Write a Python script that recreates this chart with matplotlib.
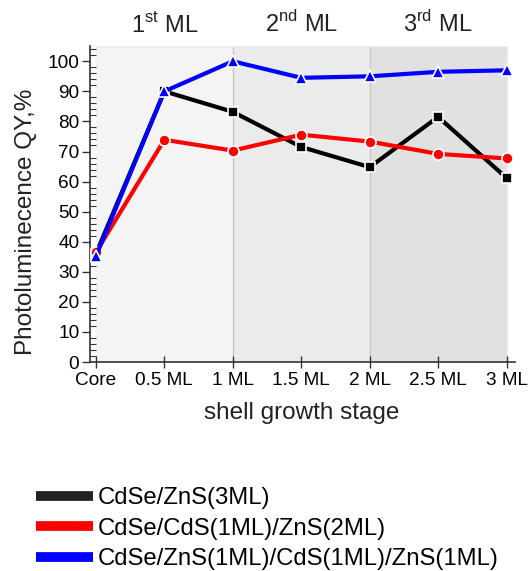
import matplotlib.pyplot as plt
from matplotlib.lines import Line2D
from matplotlib.ticker import MultipleLocator

plt.rcParams['font.family'] = ['Liberation Sans', 'DejaVu Sans']

stages = ['Core', '0.5 ML', '1 ML', '1.5 ML', '2 ML', '2.5 ML', '3 ML']
qy_zns = [36, 90, 83.2, 71.5, 64.8, 81.5, 61.2]
qy_cds_zns = [36.5, 73.9, 70.3, 75.6, 73.3, 69.2, 67.7]
qy_zns_cds_zns = [35.2, 90, 100, 94.5, 95, 96.5, 97]
labels = ['CdSe/ZnS(3ML)', 'CdSe/CdS(1ML)/ZnS(2ML)',
          'CdSe/ZnS(1ML)/CdS(1ML)/ZnS(1ML)']
ml_titles = ['1$^{\\mathregular{st}}$ ML', '2$^{\\mathregular{nd}}$ ML',
             '3$^{\\mathregular{rd}}$ ML']

fig = plt.figure(figsize=(5.28, 5.71), dpi=100)
ax = fig.add_axes([0.170, 0.366, 0.805, 0.553])

x = list(range(len(stages)))

# shaded monolayer regions
ax.axvspan(0, 2, color='#f4f4f4', lw=0, zorder=0)
ax.axvspan(2, 4, color='#eaebeb', lw=0, zorder=0)
ax.axvspan(4, 6, color='#e1e1e1', lw=0, zorder=0)
ax.axvline(2, color='#c6c6c6', lw=1, zorder=1)
ax.axvline(4, color='#c6c6c6', lw=1, zorder=1)
ax.plot([6, 6], [0, 105], color='#eeeeee', lw=1, zorder=1)
ax.plot([0, 6], [105, 105], color='#eeeeee', lw=1, zorder=1)

ax.plot(x, qy_zns, color='black', lw=3, marker='s', ms=7,
        mfc='black', mec='white', mew=1.2, zorder=3)
ax.plot(x, qy_cds_zns, color='red', lw=3, marker='o', ms=8,
        mfc='red', mec='white', mew=1.2, zorder=4)
ax.plot(x, qy_zns_cds_zns, color='blue', lw=3, marker='^', ms=9,
        mfc='blue', mec='white', mew=1.2, zorder=5)

ax.set_xlim(-0.09, 6.12)
ax.set_ylim(0, 105)
ax.set_xticks(x)
ax.set_xticklabels(stages, fontsize=13.7)
ax.yaxis.set_major_locator(MultipleLocator(10))
ax.yaxis.set_minor_locator(MultipleLocator(2))
ax.tick_params(axis='y', which='major', direction='out', length=6,
               width=1, labelsize=13.7, color='#333333', pad=1.5)
ax.tick_params(axis='y', which='minor', direction='in', length=4,
               width=0.8, color='#333333')
ax.tick_params(axis='x', which='major', direction='inout', length=8,
               width=1, labelsize=13.7, color='#333333', pad=3)

for side in ['top', 'right']:
    ax.spines[side].set_visible(False)
for side in ['left', 'bottom']:
    ax.spines[side].set_color('#333333')
    ax.spines[side].set_linewidth(1.2)
ax.set_facecolor('white')

ax.set_ylabel('Photoluminecence QY,%', fontsize=17.5, color='#222222')
ax.yaxis.set_label_coords(-0.124, 0.443)
ax.set_xlabel('shell growth stage', fontsize=17.5, color='#222222')
ax.xaxis.set_label_coords(0.499, -0.128)

for i, t in enumerate(ml_titles):
    ax.text(1 + 2 * i, 108, t, ha='center', va='bottom', fontsize=17,
            color='#222222')

handles = [Line2D([], [], color=c, lw=7, solid_capstyle='butt')
           for c in ['#222222', 'red', 'blue']]
fig.legend(handles, labels, loc='upper left', bbox_to_anchor=(0.068, 0.147),
           frameon=False, fontsize=17.2, handlelength=2.4,
           handletextpad=0.2, labelspacing=0.36, borderpad=0,
           borderaxespad=0)

fig.savefig('out.png', dpi=100)
